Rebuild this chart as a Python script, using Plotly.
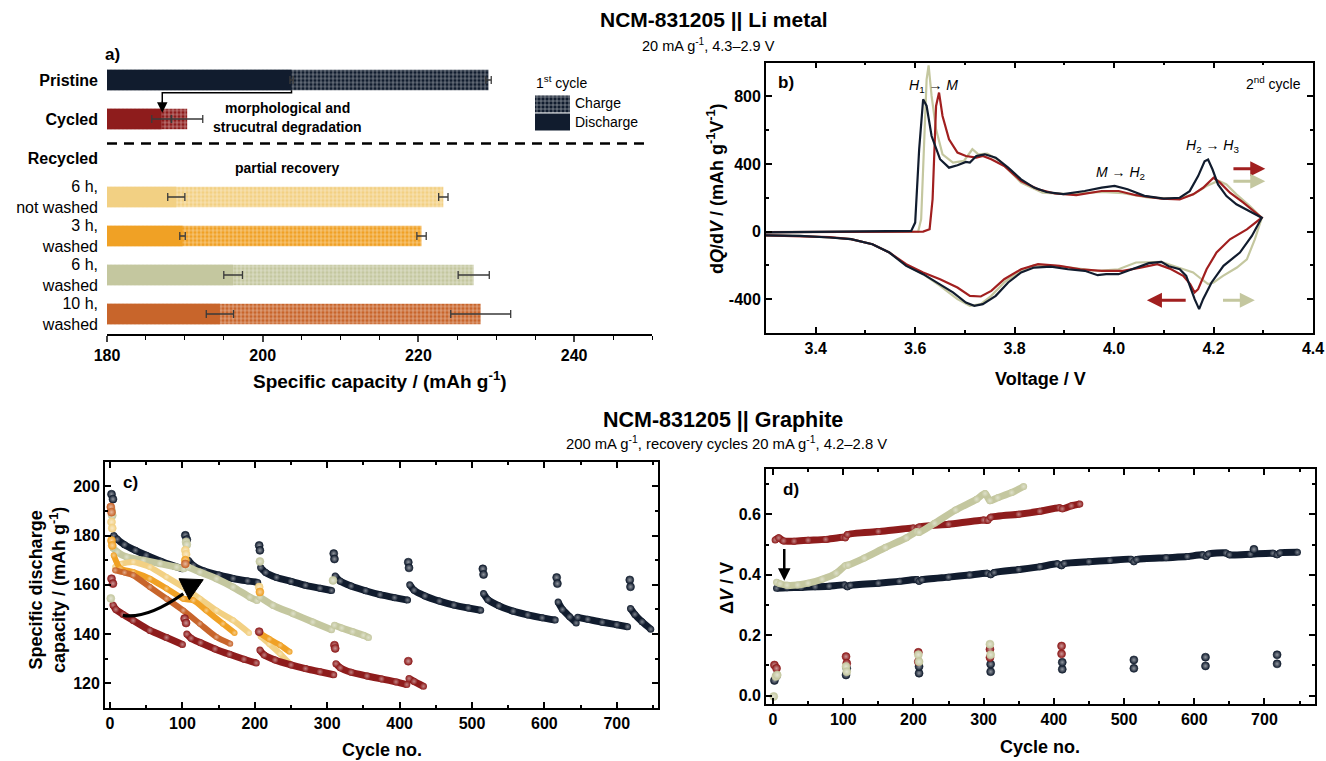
import plotly.graph_objects as go

W, H = 1326, 761
def px(x): return x / W
def py(y): return 1 - y / H

FONT = "Liberation Sans, Arial, Helvetica, sans-serif"
NAVY = "#111c2e"
RED = "#8e1c1c"
SAGE = "#c4c79f"
YEL = "#f2d083"
ORA = "#f0a125"
BURNT = "#c8652b"
GREY = "#3a3a3a"

# ---------------- Panel a: first-cycle capacities ----------------
a_rows = [0, 1, 3, 4, 5, 6]
a_colors = [NAVY, RED, YEL, ORA, SAGE, BURNT]
a_discharge = [203.7, 187.0, 188.9, 189.7, 196.2, 194.5]
a_discharge_err = [0.2, 1.25, 1.1, 0.35, 1.2, 1.75]
a_charge = [229.0, 190.3, 223.2, 220.4, 227.1, 228.0]
a_charge_err = [0.35, 2.0, 0.6, 0.6, 2.0, 3.85]
a_tickvals = [0, 1, 2, 3, 4, 5, 6]
a_ticktext = ["<b>Pristine</b>", "<b>Cycled</b>", "<b>Recycled</b>", "6 h,<br>not washed",
              "3 h,<br>washed", "6 h,<br>washed", "10 h,<br>washed"]

# ---------------- Panel b: dQ/dV, 2nd cycle ----------------
b_yticks = [-400, 0, 400, 800]
b_yticklabels = ["-400", "0", "400", "800"]
b_v_pristine = [3.30, 3.45, 3.58, 3.592, 3.600, 3.608, 3.616, 3.623, 3.633, 3.650, 3.668, 3.685, 3.702, 3.710,
                3.723, 3.740, 3.762, 3.787, 3.813, 3.839, 3.864, 3.898, 3.941, 3.975, 4.001, 4.027, 4.061, 4.100,
                4.132, 4.152, 4.169, 4.182, 4.189, 4.198, 4.209, 4.226, 4.246, 4.273, 4.297,
                4.277, 4.253, 4.220, 4.196, 4.179, 4.171, 4.162, 4.145, 4.132, 4.110, 4.095, 4.070, 4.036, 4.009,
                3.984, 3.967, 3.941, 3.907, 3.873, 3.839, 3.813, 3.787, 3.762, 3.736, 3.719, 3.702, 3.676, 3.650,
                3.616, 3.582, 3.548, 3.514, 3.471, 3.428, 3.368, 3.300]
b_q_pristine = [-5, -2, 0, 4, 53, 487, 782, 743, 565, 428, 378, 392, 412, 408,
                447, 457, 437, 378, 309, 260, 234, 221, 240, 260, 270, 250, 211, 195,
                200, 239, 328, 416, 426, 367, 279, 210, 161, 121, 82,
                -26, -124, -203, -301, -400, -459, -400, -262, -223, -205, -179, -187, -223, -252,
                -252, -258, -232, -223, -207, -213, -242, -301, -380, -429, -439, -420, -360, -311,
                -252, -203, -124, -75, -45, -35, -26, -22]
b_v_cycled = [3.30, 3.45, 3.60, 3.616, 3.629, 3.635, 3.642, 3.648, 3.655, 3.668, 3.685, 3.702, 3.723, 3.736,
              3.753, 3.779, 3.813, 3.847, 3.881, 3.924, 3.975, 4.009, 4.044, 4.095, 4.132, 4.159, 4.179, 4.200,
              4.213, 4.233, 4.260, 4.297,
              4.267, 4.233, 4.206, 4.186, 4.169, 4.162, 4.153, 4.139, 4.112, 4.087, 4.053, 4.018, 3.975, 3.932,
              3.890, 3.847, 3.813, 3.779, 3.753, 3.732, 3.710, 3.685, 3.650, 3.616, 3.582, 3.548, 3.514, 3.471,
              3.428, 3.368, 3.300]
b_q_cycled = [-3, -1, 0, 0, 14, 191, 743, 822, 684, 546, 467, 447, 437, 447,
              428, 388, 299, 250, 225, 215, 240, 240, 215, 195, 190, 220, 259, 318,
              289, 230, 171, 82,
              13, -46, -124, -223, -341, -360, -311, -262, -219, -193, -213, -232, -232, -223,
              -203, -193, -223, -282, -351, -384, -380, -331, -282, -242, -193, -124, -75, -45,
              -33, -26, -22]
b_v_6hw = [3.30, 3.45, 3.60, 3.606, 3.612, 3.618, 3.623, 3.627, 3.633, 3.642, 3.655, 3.676, 3.698, 3.715,
           3.727, 3.745, 3.770, 3.813, 3.856, 3.907, 3.975, 4.018, 4.070, 4.129, 4.159, 4.186, 4.210, 4.226,
           4.246, 4.273, 4.297,
           4.283, 4.267, 4.247, 4.219, 4.200, 4.189, 4.176, 4.159, 4.129, 4.095, 4.044, 4.009, 3.967, 3.924,
           3.881, 3.839, 3.813, 3.779, 3.753, 3.732, 3.710, 3.685, 3.650, 3.616, 3.582, 3.548, 3.514, 3.471,
           3.428, 3.368, 3.300]
b_q_6hw = [-3, -1, 0, 0, 73, 546, 900, 983, 802, 605, 457, 408, 418, 487,
           457, 461, 418, 290, 230, 221, 234, 227, 201, 195, 220, 269, 301, 279,
           220, 151, 82,
           -46, -164, -213, -262, -301, -311, -282, -242, -213, -179, -183, -223, -232, -219,
           -203, -199, -232, -301, -380, -429, -439, -400, -321, -252, -200, -124, -75, -45,
           -35, -26, -22]

# ---------------- Panel c: discharge capacity vs cycle ----------------
c_cyc_pristine = [5, 10, 20, 35, 50, 70, 90, 100, None, 108, 115, 130, 150, 170, 190, 204, None,
                  208, 215, 230, 250, 270, 290, 306, None, 311, 318, 333, 353, 373, 393, 411, None,
                  414, 420, 435, 455, 475, 495, 512, None, 516, 522, 537, 557, 577, 597, 615, None,
                  619, 625, 635, 644, None, 646, 660, 680, 700, 715, None, 719, 725, 735, 747]
c_cap_pristine = [180, 178.5, 176.3, 174, 172, 169.6, 167.5, 166.5, None, 170, 167.8, 165.6, 164, 162.6, 161.6, 161, None,
                  167, 165, 163, 161.4, 159.8, 158.6, 157.7, None, 163.6, 161.5, 159.5, 157.6, 156, 154.8, 153.8, None,
                  160, 157.8, 155.5, 153.4, 151.8, 150.6, 149.7, None, 156.5, 154, 151.5, 149.3, 147.8, 146.6, 145.7, None,
                  153, 150, 147, 144.5, None, 146.8, 146, 144.8, 143.8, 143, None, 150.4, 148, 145, 142]
c_rec_cyc_pristine = [2, 4, 104, 106, 206, 207, 309, 310, 412, 413, 515, 516, 617, 618, 718, 719]
c_rec_cap_pristine = [196.8, 194.8, 180.1, 178.4, 176, 174, 172.7, 170.5, 169.2, 166.9, 166.5, 164.2, 163, 160.5, 162, 159.2]

c_cyc_cycled = [4, 8, 18, 32, 55, 78, 100, None, 106, 112, 125, 145, 165, 185, 202, None,
                207, 213, 228, 250, 270, 290, 309, None, 312, 318, 333, 355, 375, 395, 410, None, 413, 420, 433]
c_cap_cycled = [151.8, 150, 148, 145.5, 141.5, 138.6, 135.8, None, 140, 138.3, 136.5, 134, 131.8, 129.8, 128.3, None,
                133.5, 131.5, 129.5, 127.5, 126, 124.7, 123.5, None, 128, 126.3, 124.5, 123, 121.8, 120.6, 119.5, None,
                122, 120.8, 118.8]
c_rec_cyc_cycled = [2, 4, 103, 105, 206, 310, 311, 412]
c_rec_cap_cycled = [162.5, 160.5, 146.3, 144.5, 141, 135.5, 134.2, 129]

c_cyc_6hw = [4, 10, 23, 46, 69, 92, 102, None, 108, 124, 147, 170, 193, 203, None,
             207, 225, 253, 280, 306, None, 310, 320, 335, 350, 357]
c_cap_6hw = [175, 173.3, 171.3, 170, 168.6, 167.2, 166.5, None, 167.2, 165.2, 162.5, 159.1, 155, 153.6, None,
             155, 151.7, 148.3, 144.9, 141.8, None, 143.6, 142.5, 141, 139.5, 138.6]
c_rec_cyc_6hw = [1, 2, 3, 105, 106, 207, 308]
c_rec_cap_6hw = [154.5, 190.3, 188.2, 177.4, 176.3, 169.5, 161.8]

c_cyc_6hnw = [7, 15, 32, 55, 78, 101, 124, 147, 170, 192, None, 208, 220, 235, 248]
c_cap_6hnw = [167.2, 168.5, 169.3, 167.2, 163.2, 159.1, 154.4, 149.6, 145.6, 140.5, None, 139, 136, 132, 128.1]
c_rec_cyc_6hnw = [2, 3, 104, 105, 206]
c_rec_cap_6hnw = [185.5, 183, 174, 172.4, 159.1]

c_cyc_3hw = [5, 14, 32, 55, 78, 101, 115, 133, 156, 172, None, 207, 220, 235, 248]
c_cap_3hw = [172, 166.6, 165.2, 162.5, 158.5, 154.4, 153.7, 149.6, 144.2, 140.5, None, 140.3, 138, 135.5, 132.8]
c_rec_cyc_3hw = [2, 3, 104, 207]
c_rec_cap_3hw = [178, 176, 170, 157.1]

c_cyc_10hw = [7, 20, 32, 55, 78, 101, 124, 147, 166]
c_cap_10hw = [165.9, 165, 163.9, 159.1, 154.4, 149.6, 144.2, 138.8, 136.1]
c_rec_cyc_10hw = [1, 2, 104]
c_rec_cap_10hw = [191.6, 189.5, 168.5]

# ---------------- Panel d: overpotential vs cycle ----------------
d_cyc_pristine = [5, 20, 40, 60, 80, 102, 106, 110, 150, 180, 205, 208, 212, 250, 280, 305, 310, 315, 350, 380,
                  405, 411, 415, 450, 480, 510, 514, 518, 560, 590, 612, 617, 620, 645, 650, 680, 712, 718, 722, 747]
d_dv_pristine = [0.355, 0.357, 0.358, 0.36, 0.362, 0.366, 0.36, 0.365, 0.372, 0.378, 0.384, 0.378, 0.383, 0.392,
                 0.399, 0.405, 0.4, 0.407, 0.417, 0.426, 0.436, 0.43, 0.437, 0.443, 0.447, 0.451, 0.443, 0.45,
                 0.456, 0.46, 0.466, 0.46, 0.468, 0.472, 0.466, 0.468, 0.471, 0.466, 0.472, 0.474]
d_rec_cyc_pristine = [2, 5, 104, 105, 208, 208, 310, 310, 412, 412, 514, 514, 616, 616, 718, 718, 685]
d_rec_dv_pristine = [0.05, 0.065, 0.068, 0.09, 0.074, 0.096, 0.079, 0.104, 0.087, 0.11, 0.09, 0.118, 0.098, 0.127,
                     0.105, 0.135, 0.484]

d_cyc_cycled = [3, 8, 15, 30, 50, 75, 100, 103, 106, 150, 200, 205, 208, 250, 300, 306, 310, 350, 380, 408, 412, 425, 437]
d_dv_cycled = [0.515, 0.522, 0.512, 0.511, 0.514, 0.517, 0.524, 0.522, 0.533, 0.543, 0.555, 0.553, 0.558, 0.567,
               0.581, 0.58, 0.59, 0.6, 0.61, 0.622, 0.618, 0.628, 0.634]
d_rec_cyc_cycled = [2, 5, 104, 105, 207, 207, 309, 309, 411, 411]
d_rec_dv_cycled = [0.101, 0.09, 0.129, 0.107, 0.143, 0.112, 0.153, 0.126, 0.164, 0.138]

d_cyc_6hw = [5, 10, 20, 35, 50, 70, 90, 103, 107, 130, 160, 190, 205, 208, 230, 260, 290, 302, 309, 320, 340, 357]
d_dv_6hw = [0.375, 0.37, 0.365, 0.366, 0.372, 0.385, 0.405, 0.43, 0.432, 0.455, 0.49, 0.522, 0.543, 0.54, 0.57,
            0.614, 0.65, 0.669, 0.645, 0.655, 0.672, 0.692]
d_rec_cyc_6hw = [1, 4, 6, 104, 105, 207, 208, 309, 310]
d_rec_dv_6hw = [-0.003, 0.063, 0.068, 0.096, 0.079, 0.135, 0.112, 0.17, 0.135]

# ---------------- figure ----------------
fig = go.Figure()

def hatch():
    return dict(shape="+", fgcolor="white", fgopacity=0.6, size=4, solidity=0.3, fillmode="overlay")

# panel a bars: charge (hatched) then discharge (solid) overlaid, one trace pair per row
for i, row in enumerate(a_rows):
    fig.add_trace(go.Bar(
        y=[row], x=[a_charge[i]], orientation="h", width=0.52, xaxis="x", yaxis="y",
        marker=dict(color=a_colors[i], line=dict(width=0), pattern=hatch()),
        error_x=dict(type="data", array=[a_charge_err[i]], color=GREY, thickness=1.3, width=4),
        showlegend=False, hoverinfo="skip"))
for i, row in enumerate(a_rows):
    fig.add_trace(go.Bar(
        y=[row], x=[a_discharge[i]], orientation="h", width=0.52, xaxis="x", yaxis="y",
        marker=dict(color=a_colors[i], line=dict(width=0)),
        error_x=dict(type="data", array=[a_discharge_err[i]], color=GREY, thickness=1.3, width=4),
        showlegend=False, hoverinfo="skip"))

# legend swatches for panel a
fig.add_trace(go.Bar(y=[0], x=[1], orientation="h", width=0.94, xaxis="x5", yaxis="y5",
                     marker=dict(color=NAVY, line=dict(width=0), pattern=hatch()),
                     showlegend=False, hoverinfo="skip"))
fig.add_trace(go.Bar(y=[1], x=[1], orientation="h", width=0.94, xaxis="x5", yaxis="y5",
                     marker=dict(color=NAVY, line=dict(width=0)), showlegend=False, hoverinfo="skip"))

# panel b curves
for v, q, col in [(b_v_6hw, b_q_6hw, SAGE), (b_v_cycled, b_q_cycled, "#a11f1f"), (b_v_pristine, b_q_pristine, NAVY)]:
    fig.add_trace(go.Scatter(x=v, y=q, mode="lines", line=dict(color=col, width=2.2),
                             xaxis="x2", yaxis="y2", showlegend=False, hoverinfo="skip"))

def tint(hexcol, f):
    h = hexcol.lstrip("#")
    r, g, b = int(h[0:2], 16), int(h[2:4], 16), int(h[4:6], 16)
    r = int(r + (255 - r) * f); g = int(g + (255 - g) * f); b = int(b + (255 - b) * f)
    return f"rgb({r},{g},{b})"

def chain(x, y, col, xa, ya, lw=7, size=7):
    fig.add_trace(go.Scatter(x=x, y=y, mode="lines+markers", connectgaps=False,
                             line=dict(color=col, width=lw, shape="spline", smoothing=0.6),
                             marker=dict(size=size, color=col, gradient=dict(type="radial", color=tint(col, 0.45))),
                             xaxis=xa, yaxis=ya, showlegend=False, hoverinfo="skip"))

def dots(x, y, col, xa, ya, size=8):
    fig.add_trace(go.Scatter(x=x, y=y, mode="markers",
                             marker=dict(size=size, color=col, line=dict(width=0.6, color=col),
                                         gradient=dict(type="radial", color=tint(col, 0.55))),
                             xaxis=xa, yaxis=ya, showlegend=False, hoverinfo="skip"))

# panel c
chain(c_cyc_pristine, c_cap_pristine, NAVY, "x3", "y3")
chain(c_cyc_6hw, c_cap_6hw, SAGE, "x3", "y3")
chain(c_cyc_6hnw, c_cap_6hnw, YEL, "x3", "y3", lw=6, size=6)
chain(c_cyc_3hw, c_cap_3hw, ORA, "x3", "y3", lw=6, size=6)
chain(c_cyc_10hw, c_cap_10hw, BURNT, "x3", "y3", lw=6, size=6)
chain(c_cyc_cycled, c_cap_cycled, RED, "x3", "y3")
dots(c_rec_cyc_pristine, c_rec_cap_pristine, NAVY, "x3", "y3")
dots(c_rec_cyc_6hw, c_rec_cap_6hw, SAGE, "x3", "y3")
dots(c_rec_cyc_6hnw, c_rec_cap_6hnw, YEL, "x3", "y3")
dots(c_rec_cyc_3hw, c_rec_cap_3hw, ORA, "x3", "y3")
dots(c_rec_cyc_10hw, c_rec_cap_10hw, BURNT, "x3", "y3")
dots(c_rec_cyc_cycled, c_rec_cap_cycled, RED, "x3", "y3")

# panel d
chain(d_cyc_pristine, d_dv_pristine, NAVY, "x4", "y4")
chain(d_cyc_cycled, d_dv_cycled, RED, "x4", "y4")
chain(d_cyc_6hw, d_dv_6hw, SAGE, "x4", "y4")
dots(d_rec_cyc_pristine, d_rec_dv_pristine, NAVY, "x4", "y4")
dots(d_rec_cyc_cycled, d_rec_dv_cycled, RED, "x4", "y4")
dots(d_rec_cyc_6hw, d_rec_dv_6hw, SAGE, "x4", "y4")

tickfont = dict(family=FONT, size=16, color="black", weight="bold")
box = dict(showline=True, linecolor="black", linewidth=1.8, mirror="allticks", ticks="inside",
           ticklen=6, tickwidth=1.5, tickcolor="black", showgrid=False, zeroline=False, tickfont=tickfont,
           automargin=False)

fig.update_layout(
    width=W, height=H, margin=dict(l=0, r=0, t=0, b=0, autoexpand=False),
    paper_bgcolor="white", plot_bgcolor="rgba(0,0,0,0)", barmode="overlay",
    font=dict(family=FONT, color="black"), showlegend=False,
    xaxis=dict(domain=[px(107), px(652)], range=[180, 250], anchor="y", showline=True, linecolor="black",
               linewidth=2, ticks="outside", ticklen=6, tickwidth=1.5, dtick=20, tick0=180,
               minor=dict(dtick=5, ticks="outside", ticklen=4, tickwidth=1.2, tickcolor="black"),
               showgrid=False, zeroline=False, tickfont=tickfont, automargin=False),
    yaxis=dict(domain=[py(333.5), py(60.5)], range=[6.5, -0.5], anchor="x", showline=False, ticks="",
               tickvals=a_tickvals, ticktext=a_ticktext, showgrid=False, zeroline=False,
               tickfont=dict(family=FONT, size=16, color="black"), ticklabelstandoff=8, automargin=False),
    xaxis2=dict(domain=[px(766), px(1313)], range=[3.3, 4.4], anchor="y2", dtick=0.2, tickformat=".1f",
                minor=dict(dtick=0.1, ticks="inside", ticklen=3, tickcolor="black"), **box),
    yaxis2=dict(domain=[py(333), py(62.5)], range=[-600, 1000], anchor="x2",
                tickvals=b_yticks, ticktext=b_yticklabels,
                minor=dict(dtick=200, ticks="inside", ticklen=3, tickcolor="black"), **box),
    xaxis3=dict(domain=[px(105), px(658)], range=[-7, 757], anchor="y3", dtick=100,
                minor=dict(dtick=50, ticks="inside", ticklen=3, tickcolor="black"), **box),
    yaxis3=dict(domain=[py(708), py(461.7)], range=[110, 210], anchor="x3", dtick=20,
                minor=dict(dtick=10, ticks="inside", ticklen=3, tickcolor="black"), **box),
    xaxis4=dict(domain=[px(766), px(1315)], range=[-10, 772], anchor="y4", dtick=100,
                minor=dict(dtick=50, ticks="inside", ticklen=3, tickcolor="black"), **box),
    yaxis4=dict(domain=[py(704), py(469)], range=[-0.028, 0.75], anchor="x4", dtick=0.2, tickformat=".1f",
                minor=dict(dtick=0.1, ticks="inside", ticklen=3, tickcolor="black"), **box),
    xaxis5=dict(domain=[px(535), px(570)], range=[0, 1], anchor="y5", visible=False, automargin=False),
    yaxis5=dict(domain=[py(131), py(95)], range=[1.5, -0.5], anchor="x5", visible=False, automargin=False),
)

ann = []
def text(x, y, t, size=14, bold=False, italic=False, xanchor="center", angle=0, color="black"):
    if bold:
        t = f"<b>{t}</b>"
    if italic:
        t = f"<i>{t}</i>"
    ann.append(dict(x=px(x), y=py(y), xref="paper", yref="paper", text=t, showarrow=False,
                    xanchor=xanchor, yanchor="middle", textangle=angle,
                    font=dict(family=FONT, size=size, color=color)))

# titles
text(714, 20, "NCM-831205 || Li metal", 21, bold=True)
text(708, 45, "20 mA g<sup>-1</sup>, 4.3–2.9 V", 14.5)
text(723, 420, "NCM-831205 || Graphite", 21.5, bold=True)
text(726, 443, "200 mA g<sup>-1</sup>, recovery cycles 20 mA g<sup>-1</sup>, 4.2–2.8 V", 14.8)

# panel a
text(103, 55, "a)", 17, bold=True, xanchor="left")
text(287, 108, "morphological and", 14, bold=True)
text(287, 127, "strucutral degradation", 14, bold=True)
text(287, 168, "partial recovery", 14, bold=True)
text(534, 82, "1<sup>st</sup> cycle", 14, xanchor="left")
text(573, 103, "Charge", 14, xanchor="left")
text(573, 122, "Discharge", 14, xanchor="left")
text(380, 380, "Specific capacity / (mAh g<sup>-1</sup>)", 19, bold=True)

# panel b
text(776, 83, "b)", 17, bold=True, xanchor="left")
text(933, 86, "<i>H</i><sub>1</sub> → <i>M</i>", 14)
text(1120, 173, "<i>M</i> → <i>H</i><sub>2</sub>", 14)
text(1212, 146, "<i>H</i><sub>2</sub> → <i>H</i><sub>3</sub>", 14)
text(1303, 83, "2<sup>nd</sup> cycle", 14, xanchor="right")
text(1040, 379, "Voltage / V", 18, bold=True)
text(715, 189, "d<i>Q</i>/d<i>V</i> / (mAh g<sup>-1</sup>V<sup>-1</sup>)", 18, bold=True, angle=-90)

# panel c
text(121, 482, "c)", 17, bold=True, xanchor="left")
text(382, 750, "Cycle no.", 18, bold=True)
text(47, 590, "Specific discharge<br>capacity / (mAh g<sup>-1</sup>)", 18, bold=True, angle=-90)

# panel d
text(781, 489, "d)", 17, bold=True, xanchor="left")
text(1040, 747, "Cycle no.", 18, bold=True)
text(727, 588, "Δ<i>V</i> / V", 18, bold=True, angle=-90)

# arrows
def arrow(x, y, ax, ay, xr, yr, col, w=2.5, head=2, size=1.0):
    ann.append(dict(x=x, y=y, ax=ax, ay=ay, xref=xr, yref=yr, axref=xr, ayref=yr, text="",
                    showarrow=True, arrowhead=head, arrowsize=size, arrowwidth=w, arrowcolor=col))

arrow(187.1, 0.84, 187.1, 0.5, "x", "y", "black", w=1.5, head=2, size=1.4)
arrow(4.304, 371, 4.237, 371, "x2", "y2", "#a11f1f", w=3, head=2, size=1)
arrow(4.304, 298, 4.237, 298, "x2", "y2", SAGE, w=3, head=2, size=1)
arrow(4.066, -406, 4.147, -406, "x2", "y2", "#a11f1f", w=3, head=2, size=1)
arrow(4.283, -406, 4.216, -406, "x2", "y2", SAGE, w=3, head=2, size=1)
arrow(16, 0.38, 16, 0.49, "x4", "y4", "black", w=2.5, head=2, size=1)

fig.update_layout(annotations=ann)

shapes = [
    dict(type="line", xref="x", yref="y", x0=180, x1=249.5, y0=1.63, y1=1.63,
         line=dict(color="black", width=2.5, dash="10px,7px")),
    dict(type="path", xref="x", yref="y", path="M 203.7 0.26 L 203.7 0.33 L 187.1 0.33 L 187.1 0.55",
         line=dict(color="black", width=1.5)),
    dict(type="path", xref="x3", yref="y3", path="M 17.5 147.6 Q 51 146 101.1 156.4",
         line=dict(color="black", width=3.2)),
    dict(type="path", xref="x3", yref="y3", path="M 95.2 162.5 L 128.7 162.1 L 109.4 154.0 Z",
         fillcolor="black", line=dict(color="black", width=1)),
]
fig.update_layout(shapes=shapes)

fig.write_html("out.html", config={"displayModeBar": False},
               post_script="document.body.style.margin='0';document.body.style.overflow='hidden';")
